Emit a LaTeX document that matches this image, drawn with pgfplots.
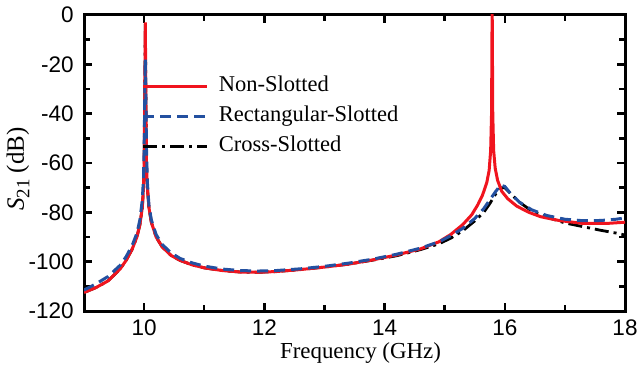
\documentclass[border=0pt]{standalone}
\usepackage{fontspec}
\setmainfont{Liberation Serif}
\setsansfont{Liberation Sans}
\usepackage{pgfplots}
\pgfplotsset{compat=1.18}
\definecolor{myred}{RGB}{240,20,30}
\definecolor{myblue}{RGB}{35,80,160}
\begin{document}
\begin{tikzpicture}
\useasboundingbox (-42bp,-28bp) rectangle (278bp,155.5bp);
\begin{axis}[
  at={(0,0)}, anchor=south west,
  scale only axis,
  width=270.5bp, height=148bp,
  xmin=9, xmax=18, ymin=-120, ymax=0,
  xtick={10,12,14,16,18},
  ytick={-120,-100,-80,-60,-40,-20,0},
  minor x tick num=1, minor y tick num=1,
  tick align=inside,
  major tick length=4bp, minor tick length=2.8bp,
  every tick/.style={black, line width=1.2bp},
  axis line style={line width=1.5bp},
  /pgf/number format/assume math mode=true,
  ticklabel style={font=\sffamily\fontsize{11.3}{13}\selectfont},
  yticklabel style={xshift=-1.6bp},
  xticklabel style={yshift=-1bp},
  xlabel={Frequency (GHz)},
  ylabel={{\itshape S}\raisebox{-0.22em}{\fontsize{9.5}{10}\selectfont 21} (dB)},
  every axis x label/.style={at={(axis description cs:0.5,0)}, anchor=center, xshift=3bp, yshift=-21bp, font=\fontsize{11.5}{13}\selectfont},
  every axis y label/.style={at={(axis description cs:0,0.5)}, xshift=-33bp, yshift=-3bp, rotate=90, anchor=center, font=\fontsize{12.5}{14}\selectfont},
  clip=true,
  legend cell align=left,
  legend style={draw=none, fill=none, at={(0.095,0.82)}, anchor=north west,
    font=\fontsize{11.3}{13}\selectfont,
    nodes={inner sep=1.5bp, text height=8bp, text depth=2.5bp},
    row sep=1.5bp},
  legend image code/.code={\draw[#1] (0bp,0bp) -- (32bp,0bp);},
  legend style={/tikz/every odd column/.append style={column sep=3.5bp}},
]
% Cross-Slotted (drawn first, under the others)
\addplot[black, line width=1.4bp, dash pattern=on 7bp off 2.5bp on 1.5bp off 2.5bp, forget plot] coordinates {
(9.00,-112.5) (9.2,-110.5) (9.4,-107.8) (9.6,-103) (9.7,-99.5) (9.8,-95) (9.88,-90)
(9.93,-85) (9.97,-78) (9.99,-70) (10.0,-62) (10.012,-30) (10.02,-3) (10.028,-30)
(10.04,-62) (10.055,-70) (10.08,-78) (10.12,-84) (10.2,-90) (10.3,-94) (10.45,-97.5)
(10.6,-99.5) (10.8,-101.3) (11.0,-102.5) (11.3,-103.6) (11.6,-104.2) (11.9,-104.3)
(12.2,-104) (12.6,-103.2) (13.0,-102.2) (13.4,-101) (13.8,-99.4) (14.2,-97.6)
(14.6,-95.1) (14.9,-92.8) (15.1,-90.5)
(15.3,-87.5) (15.5,-83.5) (15.65,-80) (15.75,-76.5) (15.85,-72.5) (15.93,-70)
(16.0,-70) (16.1,-72.5) (16.25,-76) (16.45,-79.5) (16.7,-82) (17.0,-84.3)
(17.3,-85.8) (17.6,-87.3) (17.85,-88.4) (18.0,-89.2)
};
% Non-Slotted
\addplot[myred, line width=1.5bp] coordinates {
(9.00,-112.5) (9.2,-110.5) (9.4,-107.8) (9.6,-103) (9.7,-99.5) (9.8,-95) (9.88,-90)
(9.93,-85) (9.97,-78) (9.99,-70) (10.0,-62) (10.012,-30) (10.02,-3) (10.028,-30)
(10.04,-62) (10.055,-70) (10.08,-78) (10.12,-84) (10.2,-90) (10.3,-94) (10.45,-97.5)
(10.6,-99.5) (10.8,-101.3) (11.0,-102.5) (11.3,-103.6) (11.6,-104.2) (11.9,-104.3)
(12.2,-104) (12.6,-103.2) (13.0,-102.2) (13.4,-101) (13.8,-99.3) (14.2,-97.3)
(14.6,-94.8) (14.9,-92) (15.1,-89) (15.3,-85) (15.45,-81) (15.55,-77) (15.63,-73)
(15.70,-68) (15.74,-63) (15.765,-55) (15.78,-40) (15.79,5) (15.80,-40) (15.815,-55)
(15.84,-62) (15.88,-67) (15.95,-71.5) (16.05,-74.5) (16.2,-77.5) (16.4,-80)
(16.6,-81.8) (16.9,-83.3) (17.3,-84.5) (17.7,-84.5) (18.0,-84)
};
\addlegendentry{Non-Slotted}
% Rectangular-Slotted
\addplot[myblue, line width=1.5bp, dash pattern=on 5.5bp off 3bp] coordinates {
(9.00,-111.5) (9.2,-109) (9.4,-106) (9.6,-101.5) (9.7,-98) (9.8,-93.5) (9.88,-88.5)
(9.93,-83) (9.97,-75) (9.99,-66) (10.0,-55) (10.012,-32) (10.02,-18) (10.028,-32)
(10.04,-55) (10.055,-68) (10.08,-77) (10.12,-83) (10.2,-89) (10.3,-93) (10.45,-96.5)
(10.6,-98.7) (10.8,-100.5) (11.0,-101.8) (11.3,-103) (11.6,-103.6) (11.9,-103.8)
(12.2,-103.6) (12.6,-102.9) (13.0,-101.9) (13.4,-100.6) (13.8,-99) (14.2,-97)
(14.6,-94.5) (14.9,-92) (15.1,-89.5) (15.3,-86.5) (15.5,-82.5) (15.65,-78.5)
(15.75,-75) (15.85,-71.5) (15.93,-69) (16.0,-69.5) (16.1,-72.5) (16.25,-76)
(16.45,-79) (16.7,-81.3) (17.0,-82.8) (17.3,-83.4) (17.6,-83.3) (17.85,-82.8) (18.0,-82.3)
};
\addlegendentry{Rectangular-Slotted}
\addlegendimage{black, line width=1.4bp, dash pattern=on 7bp off 2.5bp on 1.5bp off 2.5bp}
\addlegendentry{Cross-Slotted}
\end{axis}
\end{tikzpicture}
\end{document}
